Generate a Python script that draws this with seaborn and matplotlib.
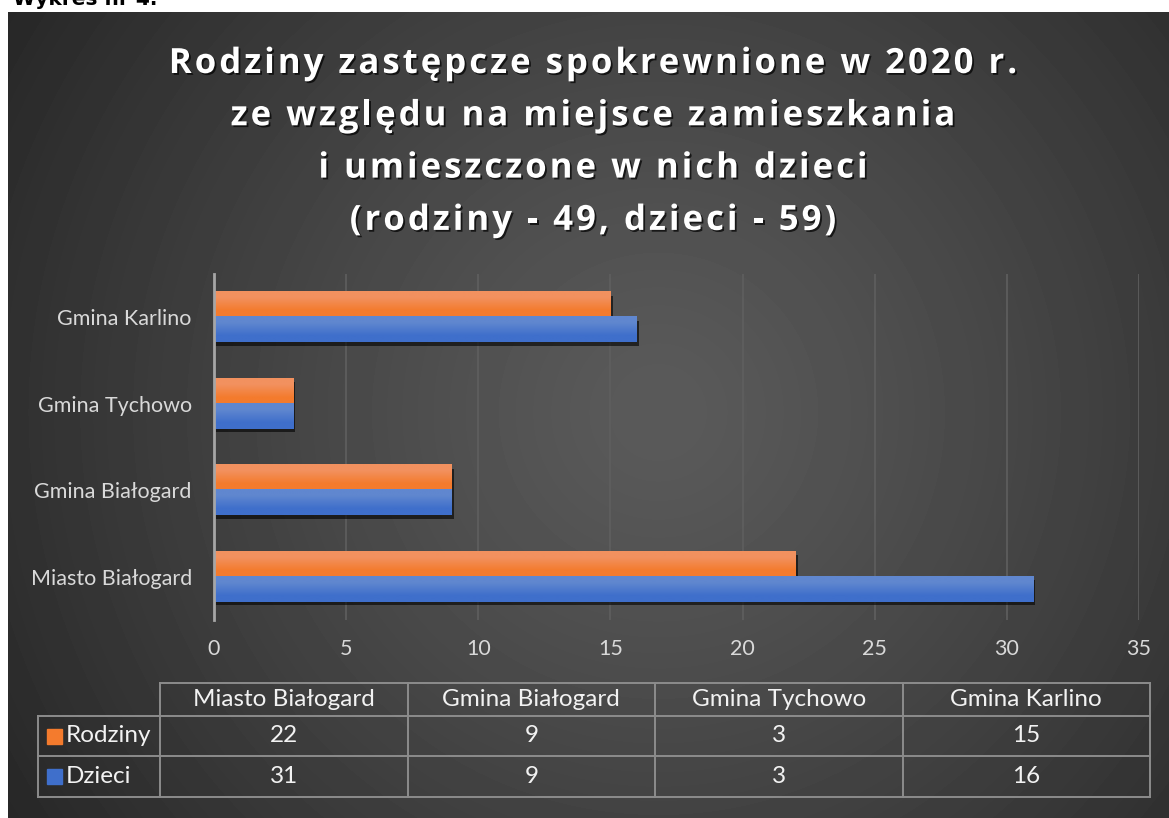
import matplotlib
matplotlib.use('Agg')
import matplotlib.pyplot as plt
import matplotlib.patheffects as pe
from matplotlib import font_manager
from matplotlib.ft2font import FT2Font
from matplotlib.colors import to_rgb
import numpy as np
import pandas as pd
import seaborn as sns

# Dane
gminy = ['Miasto Białogard', 'Gmina Białogard', 'Gmina Tychowo', 'Gmina Karlino']
rodziny = [22, 9, 3, 15]
dzieci = [31, 9, 3, 16]
serie = ['Rodziny', 'Dzieci']
x_ticks = [0, 5, 10, 15, 20, 25, 30, 35]
tytul = ['Rodziny zastępcze spokrewnione w 2020 r.',
         'ze względu na miejsce zamieszkania',
         'i umieszczone w nich dzieci',
         '(rodziny - 49, dzieci - 59)']

df = pd.DataFrame({'gmina': gminy * 2,
                   'seria': ['Rodziny'] * 4 + ['Dzieci'] * 4,
                   'wartosc': rodziny + dzieci})

ORANGE = '#F47B2D'
BLUE = '#3F6FCB'
grad_top = {ORANGE: '#F2915F', BLUE: '#6087CF'}
TXT = '#d9d9d9'
FONT = 'Lato'

W, H = 1169, 818
fig = plt.figure(figsize=(W / 100, H / 100), dpi=100, facecolor='white')


def fx(px):
    return px / W


def fy(py):
    return 1 - py / H


def spaced_text(line, xc, yc, size, tracking):
    # tytul z rozstrzelonymi literami (jak w Excelu)
    fp = font_manager.FontProperties(family='Open Sans', weight='bold')
    font = FT2Font(font_manager.findfont(fp))
    font.set_size(size, 100)
    adv = [font.load_char(ord(c)).linearHoriAdvance / 65536 for c in line]
    total = sum(adv) + tracking * (len(line) - 1)
    x = xc - total / 2
    for c, a in zip(line, adv):
        if c != ' ':
            fig.text(fx(x), fy(yc), c, ha='left', va='baseline', color='white',
                     fontsize=size, fontweight='bold', family='Open Sans',
                     path_effects=[pe.withSimplePatchShadow(offset=(1.3, -1.3),
                                                            shadow_rgbFace='black', alpha=0.7)])
        x += a + tracking


# tlo - gradient radialny
bg = fig.add_axes([fx(8), 0, 1 - fx(8), 1 - 12 / H])
yy, xx = np.mgrid[0:806, 0:1161]
r = np.sqrt((xx - 650) ** 2 + (yy - 400) ** 2) / 760
val = 0.355 - 0.2 * np.clip(r, 0, 1) ** 1.2
bg.imshow(val, cmap='gray', vmin=0, vmax=1, aspect='auto', interpolation='bilinear')
bg.axis('off')

fig.text(fx(13), fy(5), 'Wykres nr 4.', color='black', fontsize=14.5, fontweight='bold',
         family='DejaVu Sans', va='baseline', ha='left')

# tytul
for i, line in enumerate(tytul):
    spaced_text(line, 593, 73 + i * 52.3, 25, 3.0)

# wykres
ax = fig.add_axes([fx(214), fy(620), fx(1139 - 214), (620 - 274) / H])
ax.patch.set_alpha(0)
sns.barplot(data=df, y='gmina', x='wartosc', hue='seria', order=gminy[::-1], hue_order=serie,
            palette=[ORANGE, BLUE], width=0.58, orient='h', ax=ax, legend=False,
            saturation=1, linewidth=0)
ax.set_xlim(0, 35)
ax.set_autoscale_on(False)

for p in list(ax.patches):
    c = matplotlib.colors.to_hex(p.get_facecolor())
    base = ORANGE if c.lower() == ORANGE.lower() else BLUE
    p.set_path_effects([pe.SimplePatchShadow(offset=(1.5, -2.5), shadow_rgbFace='black', alpha=0.6),
                        pe.Normal()])
    img = np.array([[to_rgb(grad_top[base])], [to_rgb(base)]])
    x0, y0, w, h = p.get_x(), p.get_y(), p.get_width(), p.get_height()
    ax.imshow(img, extent=(x0, x0 + w, y0 + h, y0), aspect='auto', interpolation='bilinear',
              zorder=p.get_zorder() + 0.1)

ax.set_xticks(x_ticks)
ax.grid(axis='x', color='#5f5f5f', lw=1.2)
ax.set_axisbelow(True)
for s in ['top', 'right', 'bottom']:
    ax.spines[s].set_visible(False)
ax.spines['left'].set_color('#a6a6a6')
ax.spines['left'].set_linewidth(2)
ax.spines['left'].set_zorder(5)
ax.tick_params(length=0, colors=TXT, labelsize=15.5)
ax.tick_params(axis='x', pad=14)
ax.tick_params(axis='y', pad=16)
for lab in ax.get_xticklabels() + ax.get_yticklabels():
    lab.set_family(FONT)
ax.set_xlabel('')
ax.set_ylabel('')

# tabela danych
ov = fig.add_axes([0, 0, 1, 1])
ov.set_xlim(0, W)
ov.set_ylim(H, 0)
ov.axis('off')
lc = '#8c8c8c'
cols = np.linspace(160, 1150, len(gminy) + 1)
rows = [683, 716, 756, 797]
ov.plot([cols[0], cols[-1]], [rows[0]] * 2, color=lc, lw=1.4)
for yv in rows[1:]:
    ov.plot([38, cols[-1]], [yv] * 2, color=lc, lw=1.4)
ov.plot([38, 38], [rows[1], rows[-1]], color=lc, lw=1.4)
for xv in cols:
    ov.plot([xv, xv], [rows[0], rows[-1]], color=lc, lw=1.4)

TS = 17.5
for j, g in enumerate(gminy):
    xc = (cols[j] + cols[j + 1]) / 2
    ov.text(xc, (rows[0] + rows[1]) / 2, g, ha='center', va='center', color='#f2f2f2',
            fontsize=TS, family=FONT)
    for i, vals in enumerate([rodziny, dzieci]):
        ov.text(xc, (rows[i + 1] + rows[i + 2]) / 2, str(vals[j]), ha='center', va='center',
                color='#f2f2f2', fontsize=TS, family=FONT)

for i, (s, col) in enumerate(zip(serie, [ORANGE, BLUE])):
    yc = (rows[i + 1] + rows[i + 2]) / 2
    ov.add_patch(plt.Rectangle((47, yc - 7.5), 15, 15, color=col))
    ov.text(66, yc, s, ha='left', va='center', color='#f2f2f2', fontsize=TS, family=FONT)

fig.savefig('out.png', dpi=100, facecolor='white')
